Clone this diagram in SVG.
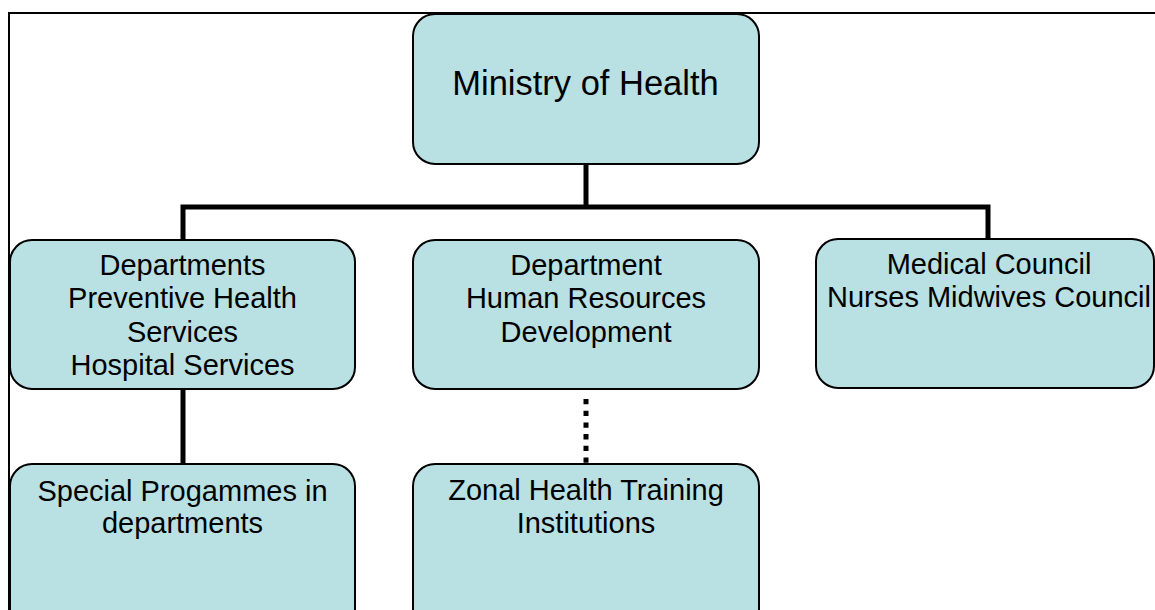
<svg xmlns="http://www.w3.org/2000/svg" width="1155" height="610" viewBox="0 0 1155 610">
  <style>
    .box { fill: #b9e0e3; stroke: #000; stroke-width: 2; }
    .t { font-family: "Liberation Sans", Arial, sans-serif; font-size: 29px; fill: #000; text-anchor: middle; }
    .big { font-size: 34.5px; }
    .conn { fill: none; stroke: #000; stroke-width: 5; stroke-linejoin: miter; stroke-linecap: butt; }
    .dot { stroke-dasharray: 5.3 6.4; }
  </style>
  <rect x="0" y="0" width="1155" height="610" fill="#fff"/>
  <g id="frame">
    <path d="M9 610 V13 H1155" fill="none" stroke="#000" stroke-width="2"/>
  </g>
  <g id="connectors">
    <path class="conn" d="M586 164 V207"/>
    <path class="conn" d="M183 240 V207 H988 V239"/>
    <path class="conn" d="M183 389 V464"/>
    <path class="conn dot" d="M586 399 V464"/>
  </g>
  <g id="ministry">
    <rect class="box" x="413" y="14" width="346" height="150" rx="22"/>
    <text class="t big" x="585.5" y="94.5">Ministry of Health</text>
  </g>
  <g id="departments">
    <rect class="box" x="10" y="240" width="345" height="149" rx="22"/>
    <text class="t" x="182.5" y="275">Departments</text>
    <text class="t" x="182.5" y="308">Preventive Health</text>
    <text class="t" x="182.5" y="341.5">Services</text>
    <text class="t" x="182.5" y="375">Hospital Services</text>
  </g>
  <g id="hrd">
    <rect class="box" x="413" y="240" width="346" height="149" rx="22"/>
    <text class="t" x="586" y="275">Department</text>
    <text class="t" x="586" y="308">Human Resources</text>
    <text class="t" x="586" y="341.5">Development</text>
  </g>
  <g id="councils">
    <rect class="box" x="816" y="239" width="338" height="149" rx="22"/>
    <text class="t" x="989" y="274">Medical Council</text>
    <text class="t" x="989" y="307">Nurses Midwives Council</text>
  </g>
  <g id="special">
    <rect class="box" x="10" y="464" width="345" height="170" rx="22"/>
    <text class="t" x="182.5" y="501">Special Progammes in</text>
    <text class="t" x="182.5" y="533">departments</text>
  </g>
  <g id="zonal">
    <rect class="box" x="413" y="464" width="346" height="170" rx="22"/>
    <text class="t" x="586" y="500">Zonal Health Training</text>
    <text class="t" x="586" y="533">Institutions</text>
  </g>
</svg>
